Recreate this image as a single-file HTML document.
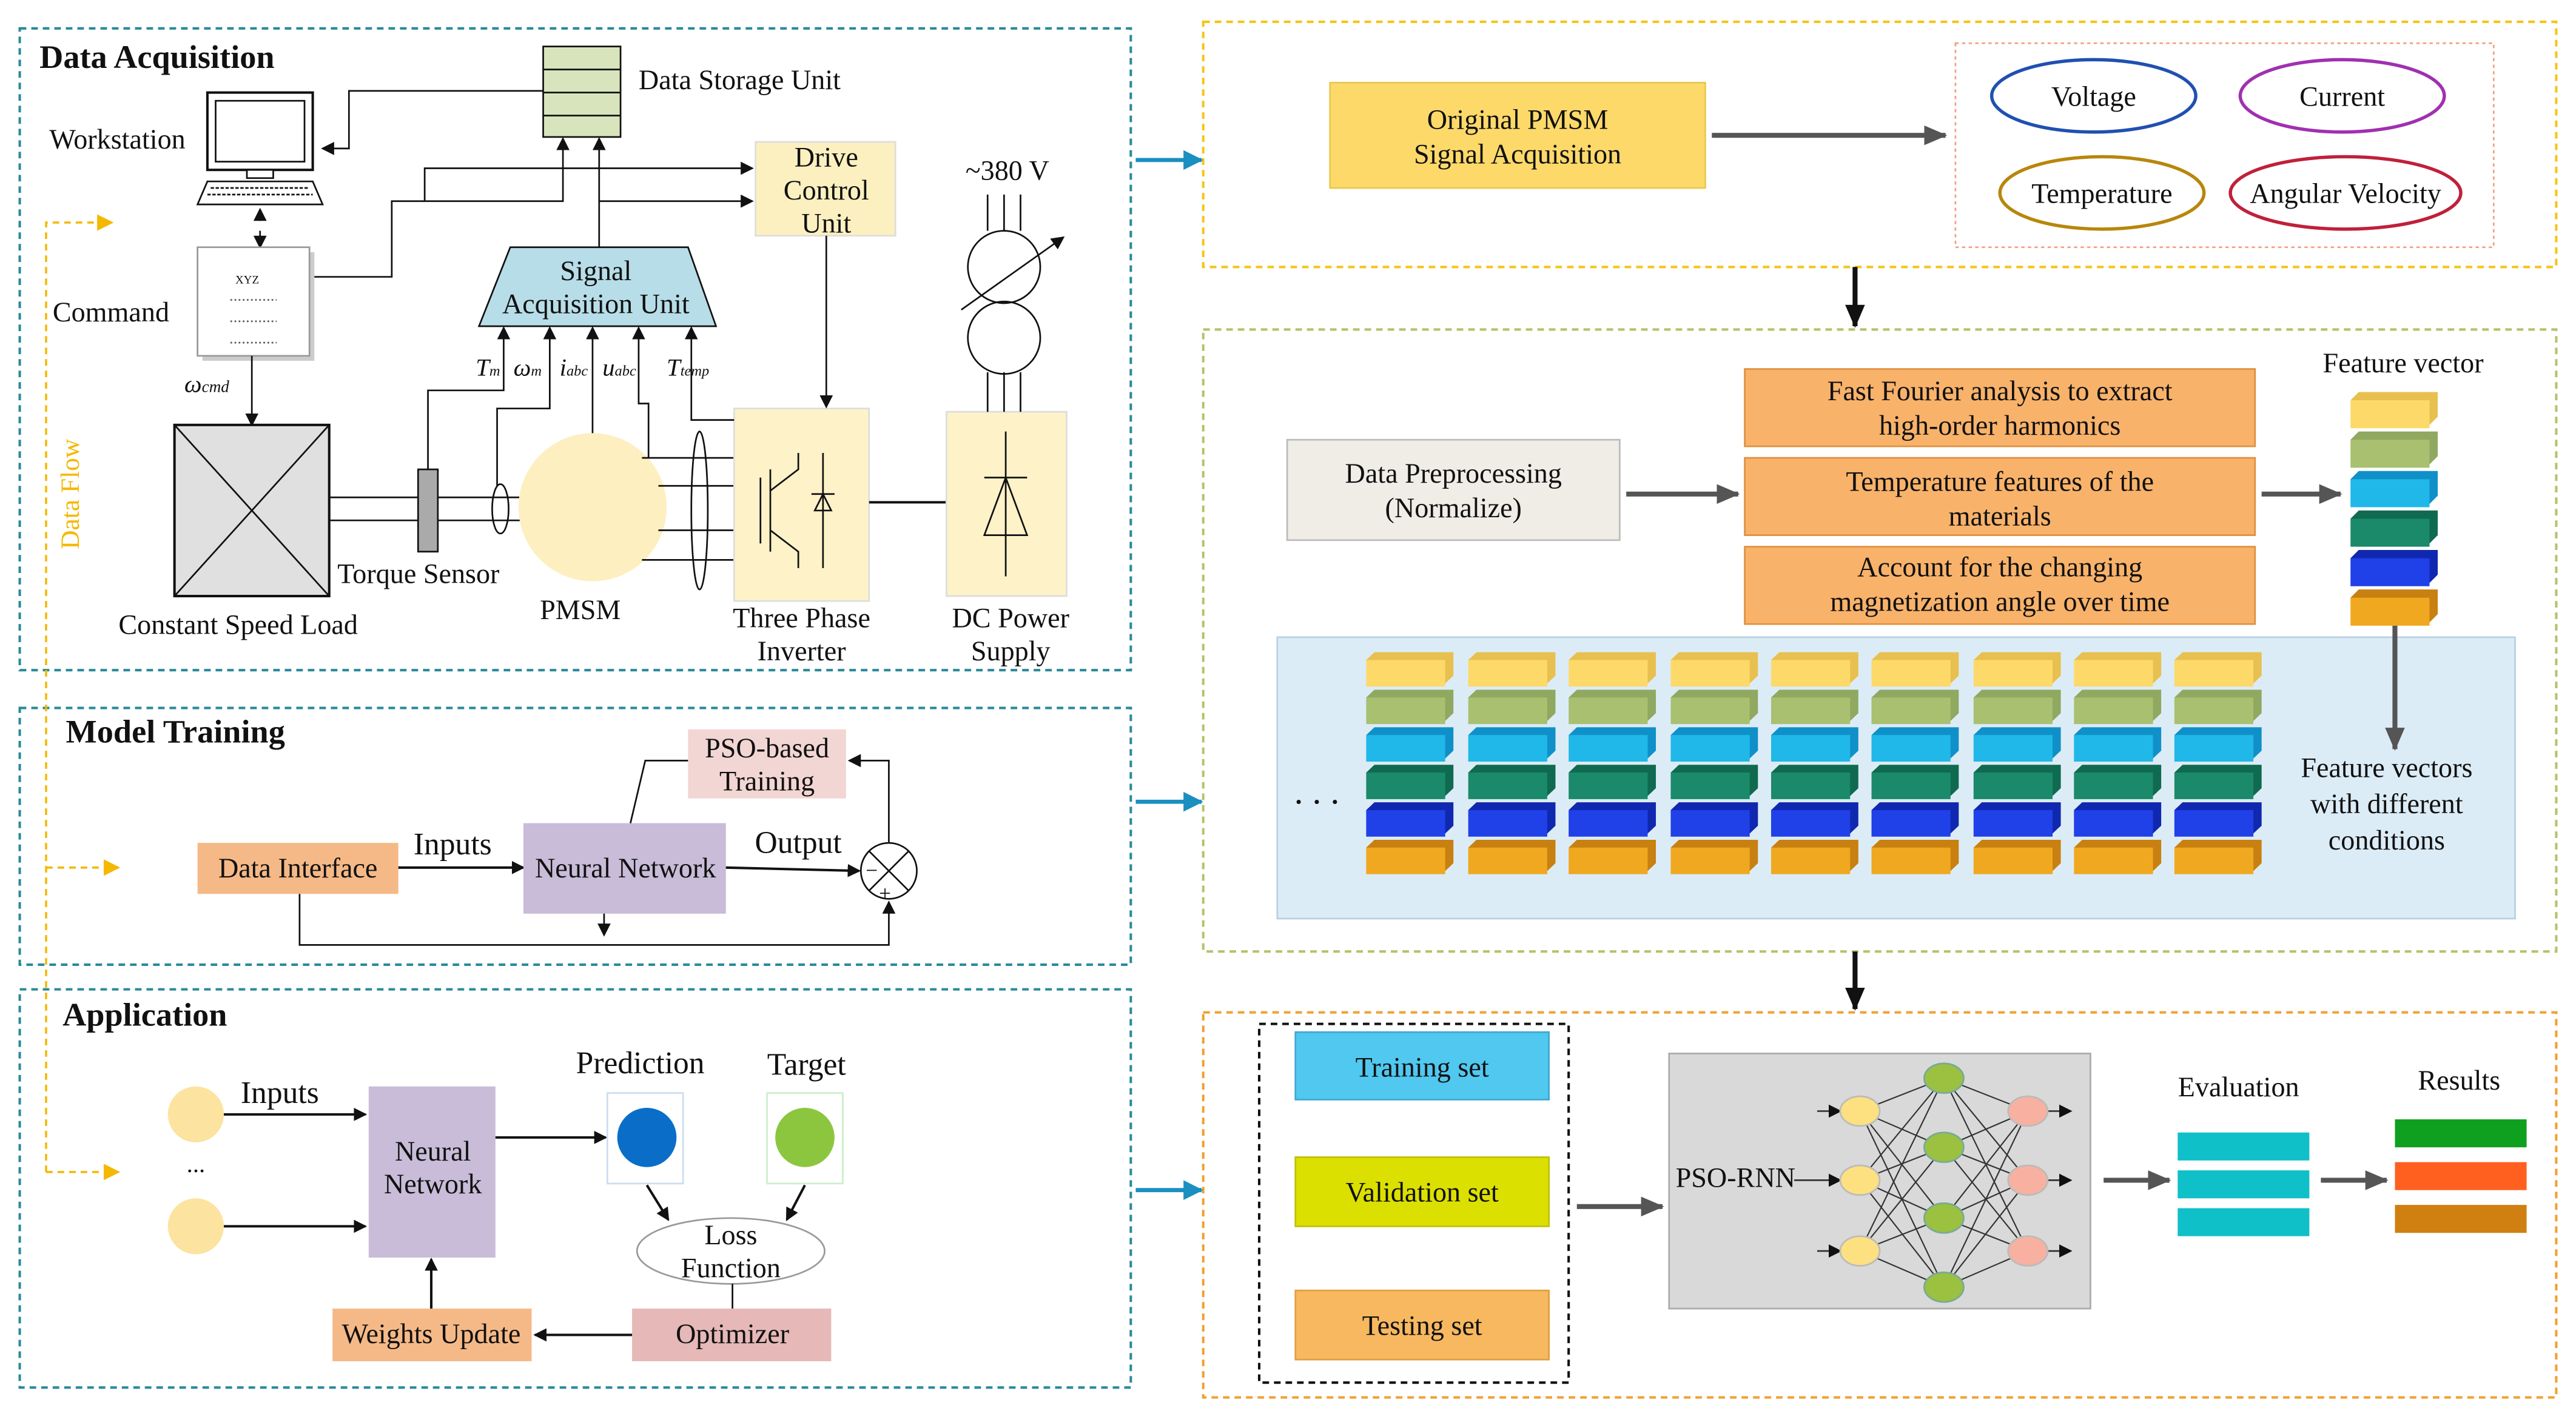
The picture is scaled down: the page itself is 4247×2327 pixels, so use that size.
<!DOCTYPE html>
<html><head><meta charset="utf-8"><style>
html,body{margin:0;padding:0;background:#fff}
svg{display:block}
text{font-family:"Liberation Serif",serif;fill:#111}
</style></head><body>
<svg width="4247" height="2327" viewBox="0 0 1565 857" xmlns="http://www.w3.org/2000/svg">
<defs>
<marker id="a" markerWidth="8" markerHeight="8" refX="7" refY="4" orient="auto" markerUnits="userSpaceOnUse"><path d="M0,0 L8,4 L0,8 z" fill="#111"/></marker>
<marker id="ag" markerWidth="14" markerHeight="12" refX="13" refY="6" orient="auto" markerUnits="userSpaceOnUse"><path d="M0,0 L14,6 L0,12 z" fill="#555"/></marker>
<marker id="ab" markerWidth="14" markerHeight="12" refX="13" refY="6" orient="auto" markerUnits="userSpaceOnUse"><path d="M0,0 L14,6 L0,12 z" fill="#111"/></marker>
<marker id="ay" markerWidth="10" markerHeight="10" refX="9" refY="5" orient="auto" markerUnits="userSpaceOnUse"><path d="M0,0 L10,5 L0,10 z" fill="#f5b800"/></marker>
<marker id="at" markerWidth="12" markerHeight="12" refX="11" refY="6" orient="auto" markerUnits="userSpaceOnUse"><path d="M0,0 L12,6 L0,12 z" fill="#1a8fc0"/></marker>
</defs>
<g fill="none" stroke-width="1.5" stroke-dasharray="4,3">
<rect x="12" y="17" width="675" height="390" stroke="#2a8a9a"/>
<rect x="12" y="430" width="675" height="156" stroke="#2a8a9a"/>
<rect x="12" y="601" width="675" height="242" stroke="#2a8a9a"/>
<rect x="731" y="13" width="822" height="149" stroke="#f5c518"/>
<rect x="731" y="200" width="822" height="378" stroke="#b5c26a"/>
<rect x="731" y="615" width="822" height="234" stroke="#f0a030"/>
</g>
<g stroke="#1a8fc0" stroke-width="2.5" marker-end="url(#at)">
<line x1="690" y1="97" x2="730" y2="97"/><line x1="690" y1="487" x2="730" y2="487"/><line x1="690" y1="723" x2="730" y2="723"/>
</g>
<g stroke="#f5b800" stroke-width="1.3" stroke-dasharray="4,3" fill="none">
<path d="M28,712 L28,135 L68,135" marker-end="url(#ay)"/>
<path d="M28,527 L72,527" marker-end="url(#ay)"/>
<path d="M28,712 L72,712" marker-end="url(#ay)"/>
</g>
<text x="48" y="300" font-size="16" style="fill:#f5b800" transform="rotate(-90 48 300)" text-anchor="middle">Data Flow</text>

<text x="24" y="41" font-size="20" font-weight="bold">Data Acquisition</text>
<text x="30" y="90" font-size="17">Workstation</text>
<rect x="126" y="56" width="64" height="47" fill="#fff" stroke="#111" stroke-width="1.5"/>
<rect x="131" y="61" width="54" height="37" fill="#fff" stroke="#111"/>
<rect x="150" y="103" width="16" height="5" fill="#fff" stroke="#111"/>
<path d="M126,110 L190,110 L196,124 L120,124 Z" fill="#fff" stroke="#111"/>
<path d="M128,114 H188 M126,118 H190" stroke="#111" stroke-dasharray="2,1"/>
<line x1="158" y1="134" x2="158" y2="127" stroke="#111" marker-end="url(#a)"/>
<line x1="158" y1="140" x2="158" y2="150" stroke="#111" marker-end="url(#a)"/>
<text x="32" y="195" font-size="17">Command</text>
<rect x="123" y="153" width="68" height="66" fill="#ccc"/>
<rect x="120" y="150" width="68" height="66" fill="#fff" stroke="#999"/>
<text x="143" y="172" font-size="7">XYZ</text>
<g stroke="#555" stroke-dasharray="1,1.5"><line x1="140" y1="182" x2="168" y2="182"/><line x1="140" y1="195" x2="168" y2="195"/><line x1="140" y1="208" x2="168" y2="208"/></g>
<text x="112" y="238" font-size="15" font-style="italic">ω<tspan font-size="10">cmd</tspan></text>
<line x1="153" y1="216" x2="153" y2="258" stroke="#111" marker-end="url(#a)"/>
<rect x="106" y="258" width="94" height="104" fill="#e0e0e0" stroke="#111" stroke-width="1.5"/>
<path d="M106,258 L200,362 M200,258 L106,362" stroke="#111"/>
<text x="72" y="385" font-size="17">Constant Speed Load</text>
<path d="M200,302 H254 M200,316 H254 M266,302 H320 M266,316 H320" stroke="#111"/>
<rect x="254" y="285" width="12" height="50" fill="#aaa" stroke="#111"/>
<text x="205" y="354" font-size="17">Torque Sensor</text>
<ellipse cx="304" cy="309" rx="5" ry="15" fill="none" stroke="#111"/>
<circle cx="360" cy="308" r="45" fill="#fdefc0"/>
<text x="328" y="376" font-size="17">PMSM</text>
<path d="M390,278 H446 M400,295 H446 M400,322 H446 M390,340 H446" stroke="#111"/>
<ellipse cx="425" cy="310" rx="5" ry="48" fill="none" stroke="#111"/>
<rect x="446" y="248" width="82" height="117" fill="#fdf2c8" stroke="#ddd"/>
<g stroke="#111" fill="none"><path d="M462,290 V330 M468,285 V335 M468,298 L485,285 V275 M468,322 L485,335 V345 M500,275 V345 M495,310 L505,310 L500,300 Z M493,300 H507"/></g>
<text x="487" y="381" font-size="17" text-anchor="middle">Three Phase</text>
<text x="487" y="401" font-size="17" text-anchor="middle">Inverter</text>
<line x1="528" y1="305" x2="575" y2="305" stroke="#111" stroke-width="1.5"/>
<rect x="575" y="250" width="73" height="112" fill="#fdf2c8" stroke="#ddd"/>
<g stroke="#111" fill="none"><path d="M611,262 V350 M598,325 H624 L611,290 Z M598,290 H624"/></g>
<text x="614" y="381" font-size="17" text-anchor="middle">DC Power</text>
<text x="614" y="401" font-size="17" text-anchor="middle">Supply</text>
<text x="612" y="109" font-size="17" text-anchor="middle">~380 V</text>
<path d="M600,118 V140 M610,118 V140 M620,118 V140 M600,226 V250 M610,226 V250 M620,226 V250" stroke="#111"/>
<circle cx="610" cy="162" r="22" fill="none" stroke="#111"/>
<circle cx="610" cy="205" r="22" fill="none" stroke="#111"/>
<line x1="584" y1="188" x2="646" y2="144" stroke="#111" marker-end="url(#a)"/>
<rect x="330" y="28" width="47" height="55" fill="#d8e4bc" stroke="#111"/>
<path d="M330,42 H377 M330,56 H377 M330,70 H377" stroke="#111"/>
<text x="388" y="54" font-size="17">Data Storage Unit</text>
<path d="M330,55 H212 V90 H196" fill="none" stroke="#111" marker-end="url(#a)"/>
<line x1="342" y1="100" x2="342" y2="84" stroke="#111" marker-end="url(#a)"/>
<line x1="364" y1="150" x2="364" y2="84" stroke="#111" marker-end="url(#a)"/>
<path d="M191,168 H238 V122 H342 V100" fill="none" stroke="#111"/>
<path d="M258,122 V102 H457" fill="none" stroke="#111" marker-end="url(#a)"/>
<path d="M364,122 H457" fill="none" stroke="#111" marker-end="url(#a)"/>
<rect x="459" y="86" width="85" height="57" fill="#fdf0c0" stroke="#ddd"/>
<text x="502" y="101" font-size="17" text-anchor="middle">Drive</text>
<text x="502" y="121" font-size="17" text-anchor="middle">Control</text>
<text x="502" y="141" font-size="17" text-anchor="middle">Unit</text>
<line x1="502" y1="143" x2="502" y2="247" stroke="#111" marker-end="url(#a)"/>
<path d="M310,150 H418 L435,198 H291 Z" fill="#b7dde8" stroke="#111"/>
<text x="362" y="170" font-size="17" text-anchor="middle">Signal</text>
<text x="362" y="190" font-size="17" text-anchor="middle">Acquisition Unit</text>
<g stroke="#111" fill="none" marker-end="url(#a)">
<path d="M260,285 V237 H306 V199"/><path d="M302,295 V248 H334 V199"/>
<path d="M360,263 V199"/><path d="M394,278 V245 H388 V199"/><path d="M446,255 H420 V199"/>
</g>
<g font-size="15" font-style="italic">
<text x="289" y="228">T<tspan font-size="9">m</tspan></text>
<text x="312" y="228">ω<tspan font-size="9">m</tspan></text>
<text x="340" y="228">i<tspan font-size="9">abc</tspan></text>
<text x="366" y="228">u<tspan font-size="9">abc</tspan></text>
<text x="405" y="228">T<tspan font-size="9">temp</tspan></text>
</g>

<text x="40" y="451" font-size="20" font-weight="bold">Model Training</text>
<rect x="120" y="512" width="122" height="31" fill="#f5b987"/>
<text x="181" y="533" font-size="17" text-anchor="middle">Data Interface</text>
<text x="275" y="519" font-size="19" text-anchor="middle">Inputs</text>
<line x1="242" y1="527" x2="318" y2="527" stroke="#111" stroke-width="1.5" marker-end="url(#a)"/>
<rect x="318" y="500" width="123" height="55" fill="#c8bcd8"/>
<text x="380" y="533" font-size="17" text-anchor="middle">Neural Network</text>
<rect x="418" y="443" width="96" height="42" fill="#f2d6d4"/>
<text x="466" y="460" font-size="17" text-anchor="middle">PSO-based</text>
<text x="466" y="480" font-size="17" text-anchor="middle">Training</text>
<path d="M383,500 L392,462 H418" fill="none" stroke="#111"/>
<text x="485" y="518" font-size="19" text-anchor="middle">Output</text>
<line x1="441" y1="527" x2="522" y2="529" stroke="#111" stroke-width="1.5" marker-end="url(#a)"/>
<circle cx="540" cy="529" r="17" fill="#fff" stroke="#111"/>
<path d="M528,517 L552,541 M552,517 L528,541" stroke="#111"/>
<text x="534" y="547" font-size="13">+</text><text x="526" y="533" font-size="13">−</text>
<path d="M540,512 V462 H516" fill="none" stroke="#111" marker-end="url(#a)"/>
<path d="M182,543 V574 H540 V548" fill="none" stroke="#111" marker-end="url(#a)"/>
<line x1="367" y1="555" x2="367" y2="568" stroke="#111" marker-end="url(#a)"/>

<text x="38" y="623" font-size="20" font-weight="bold">Application</text>
<circle cx="119" cy="677" r="17" fill="#fde3a0"/>
<circle cx="119" cy="745" r="17" fill="#fde3a0"/>
<text x="119" y="712" font-size="15" text-anchor="middle">...</text>
<text x="170" y="670" font-size="19" text-anchor="middle">Inputs</text>
<line x1="136" y1="677" x2="222" y2="677" stroke="#111" stroke-width="1.5" marker-end="url(#a)"/>
<line x1="136" y1="745" x2="222" y2="745" stroke="#111" stroke-width="1.5" marker-end="url(#a)"/>
<rect x="224" y="660" width="77" height="104" fill="#c8bcd8"/>
<text x="263" y="705" font-size="17" text-anchor="middle">Neural</text>
<text x="263" y="725" font-size="17" text-anchor="middle">Network</text>
<line x1="301" y1="691" x2="368" y2="691" stroke="#111" stroke-width="1.5" marker-end="url(#a)"/>
<text x="389" y="652" font-size="19" text-anchor="middle">Prediction</text>
<rect x="369" y="664" width="46" height="55" fill="#fff" stroke="#cde"/>
<circle cx="393" cy="691" r="18" fill="#0a6ec8"/>
<text x="490" y="653" font-size="19" text-anchor="middle">Target</text>
<rect x="466" y="664" width="46" height="55" fill="#fff" stroke="#cec"/>
<circle cx="489" cy="691" r="18" fill="#8cc63f"/>
<line x1="393" y1="720" x2="406" y2="741" stroke="#111" stroke-width="1.5" marker-end="url(#a)"/>
<line x1="489" y1="720" x2="478" y2="741" stroke="#111" stroke-width="1.5" marker-end="url(#a)"/>
<ellipse cx="444" cy="760" rx="57" ry="20" fill="#fff" stroke="#999"/>
<text x="444" y="756" font-size="17" text-anchor="middle">Loss</text>
<text x="444" y="776" font-size="17" text-anchor="middle">Function</text>
<line x1="445" y1="780" x2="445" y2="795" stroke="#111"/>
<rect x="384" y="795" width="121" height="32" fill="#e6b8b8"/>
<text x="445" y="816" font-size="17" text-anchor="middle">Optimizer</text>
<line x1="384" y1="811" x2="325" y2="811" stroke="#111" stroke-width="1.5" marker-end="url(#a)"/>
<rect x="202" y="795" width="121" height="32" fill="#f5b987"/>
<text x="262" y="816" font-size="17" text-anchor="middle">Weights Update</text>
<line x1="262" y1="795" x2="262" y2="765" stroke="#111" stroke-width="1.5" marker-end="url(#a)"/>

<rect x="808" y="50" width="228" height="64" fill="#fdd96a" stroke="#e8c850"/>
<text x="922" y="78" font-size="17" text-anchor="middle">Original PMSM</text>
<text x="922" y="99" font-size="17" text-anchor="middle">Signal Acquisition</text>
<line x1="1040" y1="82" x2="1182" y2="82" stroke="#555" stroke-width="3" marker-end="url(#ag)"/>
<rect x="1188" y="26" width="327" height="124" fill="none" stroke="#f4a080" stroke-dasharray="2,2"/>
<ellipse cx="1272" cy="58" rx="62" ry="22" fill="none" stroke="#2050b0" stroke-width="2"/>
<text x="1272" y="64" font-size="17" text-anchor="middle">Voltage</text>
<ellipse cx="1423" cy="58" rx="62" ry="22" fill="none" stroke="#a030b0" stroke-width="2"/>
<text x="1423" y="64" font-size="17" text-anchor="middle">Current</text>
<ellipse cx="1277" cy="117" rx="62" ry="22" fill="none" stroke="#b8860b" stroke-width="2"/>
<text x="1277" y="123" font-size="17" text-anchor="middle">Temperature</text>
<ellipse cx="1425" cy="117" rx="70" ry="22" fill="none" stroke="#c0203a" stroke-width="2"/>
<text x="1425" y="123" font-size="17" text-anchor="middle">Angular Velocity</text>
<line x1="1127" y1="162" x2="1127" y2="198" stroke="#111" stroke-width="3" marker-end="url(#ab)"/>

<rect x="782" y="267" width="202" height="61" fill="#efede6" stroke="#bbb"/>
<text x="883" y="293" font-size="17" text-anchor="middle">Data Preprocessing</text>
<text x="883" y="314" font-size="17" text-anchor="middle">(Normalize)</text>
<line x1="988" y1="300" x2="1056" y2="300" stroke="#555" stroke-width="3" marker-end="url(#ag)"/>
<g fill="#f8b26a" stroke="#e09040">
<rect x="1060" y="224" width="310" height="47"/><rect x="1060" y="278" width="310" height="47"/><rect x="1060" y="332" width="310" height="47"/>
</g>
<g font-size="17" text-anchor="middle">
<text x="1215" y="243">Fast Fourier analysis to extract</text><text x="1215" y="264">high-order harmonics</text>
<text x="1215" y="298">Temperature features of the</text><text x="1215" y="319">materials</text>
<text x="1215" y="350">Account for the changing</text><text x="1215" y="371">magnetization angle over time</text>
</g>
<line x1="1374" y1="300" x2="1422" y2="300" stroke="#555" stroke-width="3" marker-end="url(#ag)"/>
<text x="1460" y="226" font-size="17" text-anchor="middle">Feature vector</text>
<rect x="776" y="387" width="752" height="171" fill="#dcecf6" stroke="#b8d0e0"/>
<g id="st">
<path d="M1428,243 l5,-5 h48 v15 l-5,5 z" fill="#e8c050"/><rect x="1428" y="243" width="48" height="17" fill="#fdd96a"/>
<path d="M1428,267 l5,-5 h48 v15 l-5,5 z" fill="#90a860"/><rect x="1428" y="267" width="48" height="17" fill="#a8c070"/>
<path d="M1428,291 l5,-5 h48 v15 l-5,5 z" fill="#1090c8"/><rect x="1428" y="291" width="48" height="17" fill="#20b8e8"/>
<path d="M1428,315 l5,-5 h48 v15 l-5,5 z" fill="#106a50"/><rect x="1428" y="315" width="48" height="17" fill="#1a8a6a"/>
<path d="M1428,339 l5,-5 h48 v15 l-5,5 z" fill="#1028b0"/><rect x="1428" y="339" width="48" height="17" fill="#2040e8"/>
<path d="M1428,363 l5,-5 h48 v15 l-5,5 z" fill="#c88010"/><rect x="1428" y="363" width="48" height="17" fill="#f0a820"/>
</g>
<line x1="1455" y1="380" x2="1455" y2="455" stroke="#555" stroke-width="3" marker-end="url(#ag)"/>
<text x="800" y="488" font-size="22" text-anchor="middle">. . .</text>
<g transform="translate(-598,170) scale(1,0.95)"><use href="#st"/></g>
<g transform="translate(-536,170) scale(1,0.95)"><use href="#st"/></g>
<g transform="translate(-475,170) scale(1,0.95)"><use href="#st"/></g>
<g transform="translate(-413,170) scale(1,0.95)"><use href="#st"/></g>
<g transform="translate(-352,170) scale(1,0.95)"><use href="#st"/></g>
<g transform="translate(-291,170) scale(1,0.95)"><use href="#st"/></g>
<g transform="translate(-229,170) scale(1,0.95)"><use href="#st"/></g>
<g transform="translate(-168,170) scale(1,0.95)"><use href="#st"/></g>
<g transform="translate(-107,170) scale(1,0.95)"><use href="#st"/></g>
<g font-size="17" text-anchor="middle">
<text x="1450" y="472">Feature vectors</text><text x="1450" y="494">with different</text><text x="1450" y="516">conditions</text>
</g>
<line x1="1127" y1="578" x2="1127" y2="613" stroke="#111" stroke-width="3" marker-end="url(#ab)"/>

<rect x="765" y="622" width="188" height="218" fill="none" stroke="#111" stroke-width="1.5" stroke-dasharray="4,3"/>
<rect x="787" y="627" width="154" height="41" fill="#50c8f0" stroke="#40a8d0"/>
<text x="864" y="654" font-size="17" text-anchor="middle">Training set</text>
<rect x="787" y="703" width="154" height="42" fill="#dce000" stroke="#c0c000"/>
<text x="864" y="730" font-size="17" text-anchor="middle">Validation set</text>
<rect x="787" y="784" width="154" height="42" fill="#f8b860" stroke="#e0a040"/>
<text x="864" y="811" font-size="17" text-anchor="middle">Testing set</text>
<line x1="958" y1="733" x2="1010" y2="733" stroke="#555" stroke-width="3" marker-end="url(#ag)"/>
<rect x="1014" y="640" width="256" height="155" fill="#d9d9d9" stroke="#aaa"/>
<text x="1018" y="721" font-size="17">PSO-RNN</text>
<g stroke="#333" stroke-width="0.8">
<path d="M1130,675 L1181,655 M1130,675 L1181,697 M1130,675 L1181,740 M1130,675 L1181,782 M1130,717 L1181,655 M1130,717 L1181,697 M1130,717 L1181,740 M1130,717 L1181,782 M1130,760 L1181,655 M1130,760 L1181,697 M1130,760 L1181,740 M1130,760 L1181,782"/>
<path d="M1181,655 L1232,675 M1181,655 L1232,717 M1181,655 L1232,760 M1181,697 L1232,675 M1181,697 L1232,717 M1181,697 L1232,760 M1181,740 L1232,675 M1181,740 L1232,717 M1181,740 L1232,760 M1181,782 L1232,675 M1181,782 L1232,717 M1181,782 L1232,760"/>
</g>
<g stroke="#333" marker-end="url(#a)">
<line x1="1090" y1="717" x2="1118" y2="717"/><line x1="1104" y1="675" x2="1118" y2="675"/><line x1="1104" y1="760" x2="1118" y2="760"/>
<line x1="1244" y1="675" x2="1258" y2="675"/><line x1="1244" y1="717" x2="1258" y2="717"/><line x1="1244" y1="760" x2="1258" y2="760"/>
</g>
<g fill="#fde080" stroke="#bbb"><ellipse cx="1130" cy="675" rx="12" ry="9"/><ellipse cx="1130" cy="717" rx="12" ry="9"/><ellipse cx="1130" cy="760" rx="12" ry="9"/></g>
<g fill="#9cc040" stroke="#7a9"><ellipse cx="1181" cy="655" rx="12" ry="9"/><ellipse cx="1181" cy="697" rx="12" ry="9"/><ellipse cx="1181" cy="740" rx="12" ry="9"/><ellipse cx="1181" cy="782" rx="12" ry="9"/></g>
<g fill="#f8b0a0" stroke="#bbb"><ellipse cx="1232" cy="675" rx="12" ry="9"/><ellipse cx="1232" cy="717" rx="12" ry="9"/><ellipse cx="1232" cy="760" rx="12" ry="9"/></g>
<line x1="1278" y1="717" x2="1318" y2="717" stroke="#555" stroke-width="3" marker-end="url(#ag)"/>
<text x="1360" y="666" font-size="17" text-anchor="middle">Evaluation</text>
<g fill="#10c0c8"><rect x="1323" y="688" width="80" height="17"/><rect x="1323" y="711" width="80" height="17"/><rect x="1323" y="734" width="80" height="17"/></g>
<line x1="1410" y1="717" x2="1450" y2="717" stroke="#555" stroke-width="3" marker-end="url(#ag)"/>
<text x="1494" y="662" font-size="17" text-anchor="middle">Results</text>
<rect x="1455" y="680" width="80" height="17" fill="#10a020"/>
<rect x="1455" y="706" width="80" height="17" fill="#ff6020"/>
<rect x="1455" y="732" width="80" height="17" fill="#d08010"/>
</svg>
</body></html>
